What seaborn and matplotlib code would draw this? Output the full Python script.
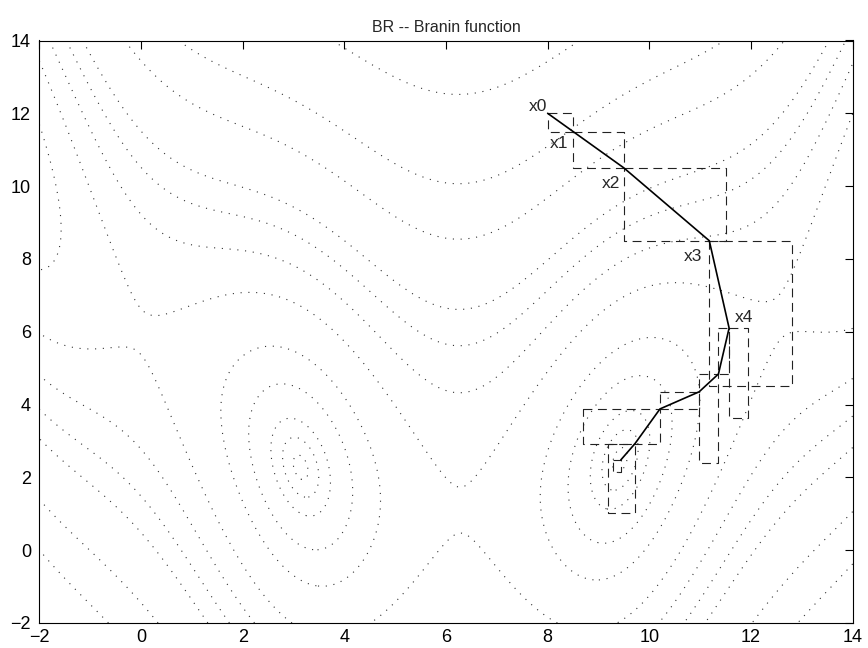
import numpy as np
import pandas as pd
import matplotlib
matplotlib.use("Agg")
import matplotlib.pyplot as plt
import seaborn as sns

# contour levels of the Branin function
levels = [0.5, 1, 2, 5, 10, 20, 30, 40, 50, 75, 100, 150]

# iterates of the trust region run (x0 ... end)
path_x = [8.0, 8.5, 9.5, 11.18, 11.57, 11.36, 10.98, 10.21, 9.72, 9.44]
path_y = [12.0, 11.5, 10.5, 8.5, 6.1, 4.84, 4.35, 3.88, 2.93, 2.48]

# dashed boxes
box_xmin = [8.0, 8.5, 9.5, 11.18, 11.57, 11.36, 10.98, 10.21, 8.70, 9.19, 9.28]
box_xmax = [8.5, 9.5, 11.5, 12.8, 11.94, 11.57, 11.36, 10.98, 10.21, 9.72, 9.44]
box_ymin = [11.5, 10.5, 8.5, 4.52, 3.62, 4.84, 2.39, 3.88, 2.93, 1.02, 2.15]
box_ymax = [12.0, 11.5, 10.5, 8.5, 6.1, 6.1, 4.84, 4.35, 3.88, 2.93, 2.48]

# point labels
label_text = ["x0", "x1", "x2", "x3", "x4"]
label_x = [7.81, 8.22, 9.25, 10.86, 11.86]
label_y = [12.2, 11.18, 10.06, 8.08, 6.38]

ticks = list(range(-2, 15, 2))


def branin(x1, x2):
    a, b, c, r, s, t = 1.0, 5.1 / (4 * np.pi**2), 5 / np.pi, 6.0, 10.0, 1 / (8 * np.pi)
    return a * (x2 - b * x1**2 + c * x1 - r) ** 2 + s * (1 - t) * np.cos(x1) + s


sns.set_style("white")
plt.rcParams["font.family"] = ["Liberation Sans", "DejaVu Sans"]

fig = plt.figure(figsize=(8.68, 6.48), dpi=100)
ax = fig.add_axes([0.0453, 0.0386, 0.9370, 0.8989])

gx = np.linspace(-2, 14, 500)
gy = np.linspace(-2, 14, 500)
X, Y = np.meshgrid(gx, gy)
Z = branin(X, Y)
cs = ax.contour(X, Y, Z, levels=levels, colors="#333333", linewidths=0.8)
cs.set_linestyle((0, (1, 6)))

for x0, x1, y0, y1 in zip(box_xmin, box_xmax, box_ymin, box_ymax):
    ax.plot([x0, x1, x1, x0, x0], [y1, y1, y0, y0, y1],
            color="#222222", lw=0.8, ls=(0, (8, 5)))

df = pd.DataFrame({"x": path_x, "y": path_y})
sns.lineplot(data=df, x="x", y="y", sort=False, estimator=None,
             color="k", lw=1.2, ax=ax)

for t, lx, ly in zip(label_text, label_x, label_y):
    ax.text(lx, ly, t, ha="center", va="center", fontsize=12.5)

ax.set_xlim(-2, 14)
ax.set_ylim(-2, 14)
ax.set_xticks(ticks)
ax.set_yticks(ticks)
ax.set_xlabel("")
ax.set_ylabel("")
ax.tick_params(direction="in", length=6, width=0.8, top=True, right=True,
               labelsize=13, colors="k")
ax.tick_params(axis="x", pad=4)
ax.tick_params(axis="y", pad=6)
for sp in ax.spines.values():
    sp.set_visible(True)
    sp.set_color("k")
    sp.set_linewidth(0.8)

ax.set_title("BR -- Branin function", fontsize=11.5, pad=6)

fig.savefig("out.png", dpi=100)
